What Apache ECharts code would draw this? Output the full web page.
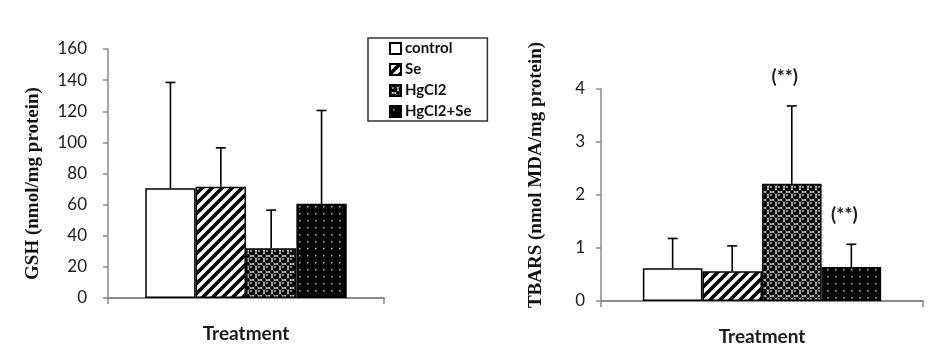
<!DOCTYPE html>
<html>
<head>
<meta charset="utf-8">
<script src="https://cdn.jsdelivr.net/npm/echarts@6/dist/echarts.min.js"></script>
<style>html,body{margin:0;padding:0;background:#fff}#c{width:944px;height:355px}</style>
</head>
<body>
<div id="c"></div>
<script>
// ---- data ----
const groups = ['control', 'Se', 'HgCl2', 'HgCl2+Se'];
const gshMean = [70.5, 71.5, 32, 60.5];
const gshSD = [68, 25, 24.5, 60];
const tbarsMean = [0.62, 0.56, 2.21, 0.64];
const tbarsSD = [0.56, 0.48, 1.47, 0.43];
const tbarsSig = ['', '', '(**)', '(**)'];
const gshTicks = [0, 20, 40, 60, 80, 100, 120, 140, 160];
const tbarsTicks = [0, 1, 2, 3, 4];

// ---- patterns ----
function makeCanvas(w, h) { const c = document.createElement('canvas'); c.width = w; c.height = h; return c; }
function stripe() {
  const s = 10, c = makeCanvas(s, s), g = c.getContext('2d');
  g.fillStyle = '#fff'; g.fillRect(0, 0, s, s);
  g.strokeStyle = '#000'; g.lineWidth = 3.6; g.lineCap = 'square';
  [[0, s, s, 0], [-s, s, s, -s], [0, 2 * s, 2 * s, 0]].forEach(l => { g.beginPath(); g.moveTo(l[0], l[1]); g.lineTo(l[2], l[3]); g.stroke(); });
  return c;
}
function spheres() {
  const s = 8, c = makeCanvas(s, s), g = c.getContext('2d');
  g.fillStyle = '#fff'; g.fillRect(0, 0, s, s);
  g.fillStyle = '#000';
  g.beginPath(); g.arc(4, 4, 3.5, 0, Math.PI * 2); g.fill();
  [[0, 0], [8, 0], [0, 8], [8, 8]].forEach(p => { g.beginPath(); g.arc(p[0], p[1], 2.0, 0, Math.PI * 2); g.fill(); });
  g.fillStyle = '#cfcfcf';
  g.beginPath(); g.arc(3, 3, 0.9, 0, Math.PI * 2); g.fill();
  return c;
}
function dots() {
  const w = 8, h = 7, c = makeCanvas(w, h), g = c.getContext('2d');
  g.fillStyle = '#000'; g.fillRect(0, 0, w, h);
  g.fillStyle = '#bbb'; g.fillRect(3, 3, 1.5, 1.5);
  return c;
}
const fills = [
  '#ffffff',
  { image: stripe(), repeat: 'repeat' },
  { image: spheres(), repeat: 'repeat' },
  { image: dots(), repeat: 'repeat' }
];

const gaps = [0.27, 0.26];
const axisGray = '#8a8a8a';
const tickFont = { fontFamily: 'Lato', fontSize: 17, color: '#1a1a1a' };

function yAxis(gridIndex, ticks, name, margin, pad, gap) {
  return {
    type: 'value', gridIndex, min: ticks[0], max: ticks[ticks.length - 1], interval: ticks[1] - ticks[0],
    name, nameLocation: 'middle', nameGap: gap,
    nameTextStyle: { fontFamily: 'Liberation Serif', fontWeight: 'bold', fontSize: 19, color: '#111', padding: pad },
    axisLine: { show: true, lineStyle: { color: axisGray, width: 1.5 } },
    axisTick: { show: true, length: 5, lineStyle: { color: axisGray, width: 1.5 } },
    axisLabel: Object.assign({ margin }, tickFont),
    splitLine: { show: false }
  };
}
function xAxis(gridIndex) {
  return {
    type: 'category', gridIndex, data: [''],
    name: 'Treatment', nameLocation: 'middle', nameGap: 26,
    nameTextStyle: { fontFamily: 'Lato', fontWeight: 'bold', fontSize: 19, color: '#1a1a1a' },
    axisLine: { show: true, lineStyle: { color: axisGray, width: 2 } },
    axisTick: { show: true, length: 6, lineStyle: { color: axisGray, width: 1.5 } },
    axisLabel: { show: false }
  };
}

const series = [];
[[gshMean, 0], [tbarsMean, 1]].forEach(([arr, gi]) => {
  groups.forEach((name, i) => {
    series.push({
      name, type: 'bar', xAxisIndex: gi, yAxisIndex: gi,
      barGap: '0%', barCategoryGap: (gaps[gi] * 100) + '%',
      itemStyle: { color: fills[i], borderColor: '#000', borderWidth: 1.5 },
      emphasis: { disabled: true },
      data: [arr[i]]
    });
  });
});

function errSeries(gi, mean, sd, sig) {
  return {
    type: 'custom', xAxisIndex: gi, yAxisIndex: gi, z: 5, silent: true,
    data: mean.map((m, i) => [0, m, m + sd[i], i]),
    renderItem: function (params, api) {
      const idx = api.value(3);
      const base = api.coord([api.value(0), api.value(1)]);
      const top = api.coord([api.value(0), api.value(2)]);
      const band = api.size([1, 0])[0];
      const bw = band * (1 - gaps[gi]) / 4;
      const x = base[0] + (idx - 1.5) * bw;
      const st = { stroke: '#000', lineWidth: 1.6 };
      const children = [
        { type: 'line', shape: { x1: x, y1: base[1], x2: x, y2: top[1] }, style: st },
        { type: 'line', shape: { x1: x - 5, y1: top[1], x2: x + 5, y2: top[1] }, style: st }
      ];
      if (sig && sig[idx]) {
        children.push({ type: 'text', style: { text: sig[idx], x: x - 7, y: top[1] - 29, align: 'center', verticalAlign: 'middle', fontFamily: 'Lato', fontWeight: 'bold', fontSize: 19, fill: '#1a1a1a' } });
      }
      return { type: 'group', children };
    }
  };
}
series.push(errSeries(0, gshMean, gshSD, null));
series.push(errSeries(1, tbarsMean, tbarsSD, tbarsSig));

const chart = echarts.init(document.getElementById('c'), null, { renderer: 'canvas' });
chart.setOption({
  animation: false,
  backgroundColor: '#fff',
  grid: [
    { left: 108, top: 49, width: 276, height: 249 },
    { left: 601, top: 89, width: 322, height: 212 }
  ],
  legend: {
    data: groups, orient: 'vertical', left: 368, top: 38,
    icon: 'rect', itemWidth: 11, itemHeight: 11, itemGap: 6,
    padding: [3, 16, 2, 21],
    borderColor: '#333', borderWidth: 1.5,
    textStyle: { fontFamily: 'Lato', fontWeight: 'bold', fontSize: 15, color: '#111', lineHeight: 15, padding: [0, 0, 0, -1] },
    selectedMode: false
  },
  xAxis: [xAxis(0), xAxis(1)],
  yAxis: [
    yAxis(0, gshTicks, 'GSH (nmol/mg protein)', 21, [0, 20, 0, 0], 65),
    yAxis(1, tbarsTicks, 'TBARS (nmol MDA/mg protein)', 16, [0, 0, 0, 40], 55)
  ],
  series
});
</script>
</body>
</html>
